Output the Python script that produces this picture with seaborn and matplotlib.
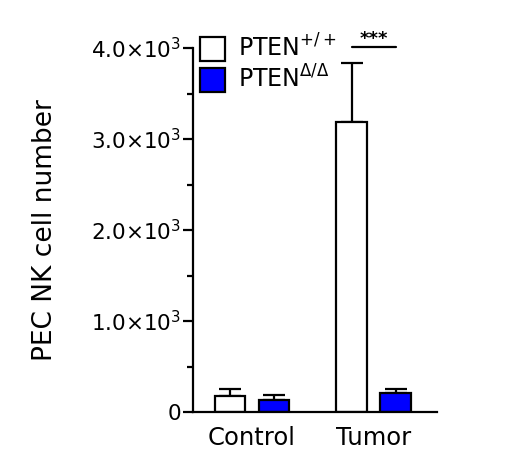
import matplotlib
matplotlib.use("Agg")
import matplotlib.pyplot as plt
import seaborn as sns
import pandas as pd
import numpy as np
from matplotlib.patches import Patch

groups = ["Control", "Tumor"]
genotypes = ["PTEN$^{+/+}$", "PTEN$^{\\Delta/\\Delta}$"]
wt_means = [175, 3190]
ko_means = [130, 210]
wt_err = [80, 640]
ko_err = [60, 45]
yticks = [0, 1000, 2000, 3000, 4000]
ytick_labels = ["0", "1.0×10$^3$", "2.0×10$^3$", "3.0×10$^3$", "4.0×10$^3$"]

sns.set_style("ticks", {"axes.edgecolor": "black", "xtick.color": "black",
                        "ytick.color": "black", "text.color": "black",
                        "axes.labelcolor": "black"})
plt.rcParams["font.family"] = ["DejaVu Sans"]

df = pd.DataFrame({
    "group": groups * 2,
    "genotype": [genotypes[0]] * 2 + [genotypes[1]] * 2,
    "value": wt_means + ko_means,
})

fig = plt.figure(figsize=(5.2, 4.71), dpi=100)
ax = fig.add_axes([193/520, 1-412/471, (437-193)/520, (412-48)/471])

sns.barplot(data=df, x="group", y="value", hue="genotype", order=groups,
            hue_order=genotypes, palette=["white", "#0000ff"], saturation=1,
            width=0.72, gap=0.3, errorbar=None, edgecolor="black",
            linewidth=1.6, legend=False, ax=ax)

# error bars (upper only)
for patch_group, (means, errs) in zip([ax.patches[:2], ax.patches[2:4]],
                                      [(wt_means, wt_err), (ko_means, ko_err)]):
    xs = [p.get_x() + p.get_width()/2 for p in patch_group]
    ax.errorbar(xs, means, yerr=[np.zeros(len(errs)), errs], fmt="none",
                ecolor="black", elinewidth=1.6, capsize=8, capthick=1.6,
                clip_on=False, zorder=0)

ax.set_xlim(-0.485, 1.52)
ax.set_ylim(0, 4000)
ax.set_yticks(yticks)
ax.set_yticklabels(ytick_labels)
ax.set_yticks([500, 1500, 2500, 3500], minor=True)
ax.tick_params(axis="y", which="major", length=7.5, width=1.6, labelsize=15.5, pad=1)
ax.tick_params(axis="y", which="minor", length=4.5, width=1.6)
ax.tick_params(axis="x", length=0, labelsize=17.5, pad=10)
ax.set_xlabel("")
ax.set_ylabel("PEC NK cell number", fontsize=19, labelpad=24)
sns.despine(ax=ax)
for s in ["left", "bottom"]:
    ax.spines[s].set_linewidth(1.6)

# significance
p_wt, p_ko = ax.patches[1], ax.patches[3]
x0 = p_wt.get_x() + p_wt.get_width() / 2
x1 = p_ko.get_x() + p_ko.get_width() / 2
ax.plot([x0, x1], [4010, 4010], color="black", lw=1.6, clip_on=False)
ax.text((x0 + x1) / 2, 4000, "***", ha="center", va="bottom", fontsize=13,
        fontweight="bold")

handles = [Patch(facecolor="white", edgecolor="black", linewidth=1.6),
           Patch(facecolor="#0000ff", edgecolor="black", linewidth=1.6)]
leg = ax.legend(handles, genotypes, loc="upper left", bbox_to_anchor=(-0.03, 1.075),
                frameon=False, fontsize=17, handlelength=1.08, handleheight=1.18,
                handletextpad=0.55, labelspacing=0.15, borderaxespad=0.2)

fig.savefig("out.png", dpi=100)
